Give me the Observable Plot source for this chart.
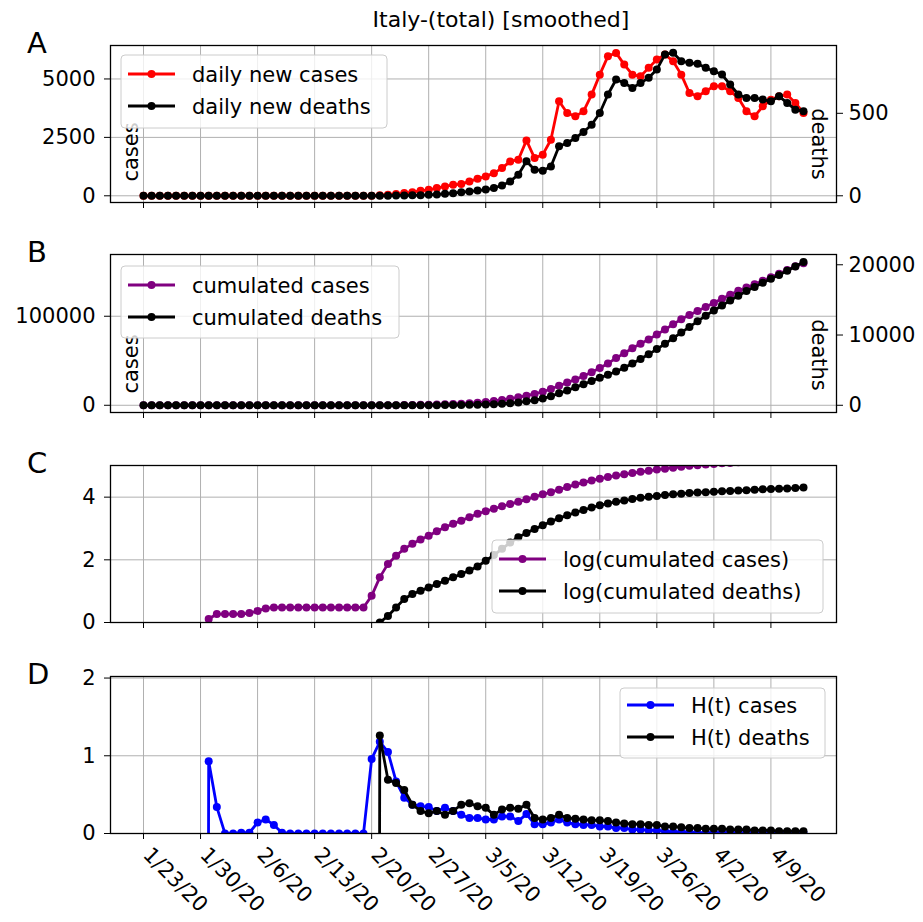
<!DOCTYPE html>
<html>
<head>
<meta charset="utf-8">
<script src="https://cdn.jsdelivr.net/npm/d3@7"></script>
<script src="https://cdn.jsdelivr.net/npm/@observablehq/plot@0.6"></script>
<style>
  body { margin: 0; background: #fff; font-family: "DejaVu Sans", sans-serif; }
  #root { position: relative; width: 923px; height: 922px; overflow: hidden; background: #fff; }
  #root > svg.plot { position: absolute; left: 0; }
</style>
</head>
<body>
<div id="root"></div>
<script>
// ---------------- data (day index 0 = 1/23/20, one value per day) ----------------
const tickDays = [0, 7, 14, 21, 28, 35, 42, 49, 56, 63, 70, 77];
const tickLabels = ["1/23/20", "1/30/20", "2/6/20", "2/13/20", "2/20/20", "2/27/20",
                    "3/5/20", "3/12/20", "3/19/20", "3/26/20", "4/2/20", "4/9/20"];

const dailyCases = [0,0,0,0,0,0,0,0, 1,0,0,0,0,0,0,0, 0,0,0,0,0,0,0,0, 0,0,0,0,
  5,20,45,80, 115,155,215,255,330,400,470,500,615,730,830,970,1185,1470,1545,2370,
  1615,1760,2400,4045,3545,3400,3615,4330,5185,5975,6115,5615,5185,5115,5475,5830,
  6045,5760,5185,4400,4260,4475,4690,4690,4475,4185,3615,3400,3830,4115,4260,4330,3975,3545];

const dailyDeaths = [0,0,0,0,0,0,0,0, 0,0,0,0,0,0,0,0, 0,0,0,0,0,0,0,0, 0,0,0,0,
  0,1,1,2, 2,3,4,6,8,12,16,22,26,32,38,47,63,87,128,209,
  158,152,178,300,320,350,387,431,502,614,705,684,654,684,715,765,
  857,867,816,806,800,776,755,735,674,614,593,593,583,573,603,563,522,512];

const cumCases = [0,0,0,0,0,0,0,0, 2,2,2,2,2,2,2,3, 3,3,3,3,3,3,3,3, 3,3,3,3,
  10,27,74,135, 224,324,447,590,813,1100,1410,1780,2290,2950,3800,4800,6000,7400,9000,10800,
  12800,15200,18300,22000,25500,29000,32800,37000,41800,47000,53000,58500,64000,69000,74000,79500,
  85000,91000,96500,101500,106000,110500,115000,119500,124000,128500,132300,136000,139800,143800,147800,152000,156000,159500];

const cumDeaths = [0,0,0,0,0,0,0,0, 0,0,0,0,0,0,0,0, 0,0,0,0,0,0,0,0, 0,0,0,0,
  0,1,2,3, 6,9,12,16,21,28,35,45,60,85,115,160,215,290,410,560,
  730,950,1300,1700,2100,2550,3000,3450,3900,4350,4800,5350,5950,6600,7250,8000,
  8750,9550,10350,11150,11950,12750,13500,14200,14900,15600,16250,16850,17450,18000,18550,19150,19750,20400];

const logCases = [null,null,null,null,null,null,null,null, 0.11,0.27,0.27,0.27,0.27,0.30,0.37,0.45,
  0.48,0.48,0.48,0.48,0.48,0.48,0.48,0.48, 0.48,0.48,0.48,0.48,
  0.85,1.44,1.87,2.13, 2.35,2.51,2.65,2.77,2.91,3.04,3.15,3.25,3.36,3.47,3.55,3.63,3.71,3.78,3.85,3.93,
  4.01,4.09,4.16,4.24,4.32,4.40,4.47,4.53,4.59,4.64,4.69,4.73,4.77,4.81,4.84,4.88,
  4.91,4.94,4.97,5.00,5.02,5.04,5.06,5.08,5.09,5.11,5.12,5.13,5.15,5.16,5.17,5.18,5.19,5.20];

const logDeaths = [null,null,null,null,null,null,null,null, null,null,null,null,null,null,null,null,
  null,null,null,null,null,null,null,null, null,null,null,null,
  null,0.00,0.21,0.48, 0.75,0.91,1.01,1.12,1.23,1.33,1.44,1.55,1.66,1.79,1.97,2.15,2.35,2.55,2.72,2.86,
  2.98,3.10,3.22,3.33,3.42,3.51,3.59,3.67,3.74,3.80,3.85,3.89,3.94,3.98,4.01,4.04,
  4.07,4.09,4.11,4.13,4.15,4.16,4.17,4.19,4.20,4.21,4.22,4.24,4.25,4.26,4.27,4.28,4.29,4.31];

// -50 marks a value far below the axis (the line drops straight out of the panel)
const hCases = [null,null,null,null,null,null,null,-50, 0.93,0.34,0,0,0.01,0.01,0.14,0.18,
  0.11,0.01,0,0,0,0,0,0, 0,0,0,0,
  0.96,1.18,1.05,0.67, 0.46,0.37,0.35,0.34,0.29,0.33,0.29,0.24,0.20,0.20,0.18,0.18,0.22,0.22,0.16,0.25,
  0.12,0.12,0.14,0.18,0.14,0.12,0.11,0.11,0.09,0.09,0.07,0.07,0.05,0.05,0.04,0.04,
  0.03,0.02,0.02,0.02,0.01,0.01,0.01,0.01,0.01,0.01,0.01,0.01,0.005,0.005,0.005,0.005,0.005,0.005];

const hDeaths = [null,null,null,null,null,null,null,null, null,null,null,null,null,null,null,null,
  null,null,null,null,null,null,null,null, null,null,null,null,
  -50,1.26,0.69,0.65, 0.56,0.37,0.29,0.26,0.29,0.24,0.29,0.37,0.39,0.35,0.33,0.24,0.31,0.33,0.32,0.37,
  0.20,0.18,0.20,0.24,0.20,0.19,0.18,0.17,0.17,0.16,0.14,0.13,0.12,0.12,0.11,0.11,
  0.09,0.09,0.08,0.07,0.07,0.06,0.06,0.06,0.05,0.05,0.05,0.04,0.04,0.04,0.03,0.03,0.03,0.03];

// ---------------- layout ----------------
const W = 923, ML = 110, MR = 87;
const xDomain = [-4.05, 85.05];
const root = document.getElementById("root");
const FONT = "DejaVu Sans";
const LW = 2.8, R = 4;

function rows(arr, k = 1) {
  return arr.map((v, i) => ({ i, v: v == null ? NaN : v * k }));
}

function panel({ top, frameH, mt = 10, mb = 10, yDomain, leftTicks, rightTicks, k = 1, layers, xLabels = false }) {
  const marks = [
    Plot.gridX(tickDays, { stroke: "#b0b0b0", strokeOpacity: 1, strokeWidth: 1 }),
    Plot.gridY(leftTicks, { stroke: "#b0b0b0", strokeOpacity: 1, strokeWidth: 1 })
  ];
  for (const L of layers) {
    const d = rows(L.data, L.k || 1);
    marks.push(Plot.line(d, { x: "i", y: "v", stroke: L.color, strokeWidth: LW, clip: true }));
    marks.push(Plot.dot(d, { x: "i", y: "v", fill: L.color, r: R, clip: true }));
  }
  marks.push(Plot.axisY(leftTicks, { anchor: "left", tickSize: 6, tickPadding: 9, fontSize: 21, label: null,
    tickFormat: d => String(d) }));
  if (rightTicks) {
    marks.push(Plot.axisY(rightTicks.map(v => v * k), { anchor: "right", tickSize: 6, tickPadding: 6, fontSize: 21,
      label: null, tickFormat: d => String(Math.round(d / k)) }));
  }
  marks.push(Plot.axisX(tickDays, { anchor: "bottom", tickSize: 6, label: null, tickFormat: () => "" }));
  if (xLabels) {
    marks.push(Plot.text(tickDays, { x: d => d, frameAnchor: "bottom", text: (d, i) => tickLabels[i],
      rotate: 45, textAnchor: "start", lineAnchor: "top", dx: 9, dy: 12, fontSize: 21, fill: "black" }));
  }
  marks.push(Plot.frame({ stroke: "black", strokeWidth: 1.3 }));
  const svg = Plot.plot({
    width: W, height: mt + frameH + mb,
    marginTop: mt, marginBottom: mb, marginLeft: ML, marginRight: MR,
    x: { domain: xDomain, label: null },
    y: { domain: yDomain, label: null },
    style: { fontFamily: FONT, fontSize: "21px", color: "black", background: "transparent", overflow: "visible" },
    marks
  });
  svg.classList.add("plot");
  svg.style.top = (top - mt) + "px";
  root.appendChild(svg);
}

// Panel A: daily new cases (left) / deaths (right)
const kA = 7.06;
panel({ top: 45, frameH: 157, yDomain: [-287, 6432], leftTicks: [0, 2500, 5000], rightTicks: [0, 500], k: kA,
  layers: [{ data: dailyCases, color: "red" }, { data: dailyDeaths, color: "black", k: kA }] });

// Panel B: cumulated cases (left) / deaths (right)
const kB = 7.89;
panel({ top: 254, frameH: 158, yDomain: [-8117, 169335], leftTicks: [0, 100000], rightTicks: [0, 10000, 20000], k: kB,
  layers: [{ data: cumCases, color: "purple" }, { data: cumDeaths, color: "black", k: kB }] });

// Panel C: log cumulated
panel({ top: 465, frameH: 157, yDomain: [0, 5.01], leftTicks: [0, 2, 4],
  layers: [{ data: logCases, color: "purple" }, { data: logDeaths, color: "black" }] });

// Panel D: H(t)
panel({ top: 676, frameH: 157, mb: 89, yDomain: [0, 2.02], leftTicks: [0, 1, 2], xLabels: true,
  layers: [{ data: hCases, color: "blue" }, { data: hDeaths, color: "black" }] });

// ---------------- text overlay: title, panel letters, axis labels, legends ----------------
const ov = d3.select(root).append("svg")
  .attr("width", W).attr("height", 922)
  .style("position", "absolute").style("left", 0).style("top", 0)
  .style("font-family", FONT).style("pointer-events", "none");

ov.append("text").attr("x", 501).attr("y", 27).attr("text-anchor", "middle")
  .attr("font-size", 22).text("Italy-(total) [smoothed]");

[["A", 53], ["B", 262], ["C", 473], ["D", 684]].forEach(([s, y]) =>
  ov.append("text").attr("x", 27).attr("y", y).attr("font-size", 29).text(s));

function vlabel(s, cx, cy, rot) {
  ov.append("text").attr("transform", `translate(${cx},${cy}) rotate(${rot})`)
    .attr("text-anchor", "middle").attr("dy", "0.35em").attr("font-size", 21).text(s);
}
vlabel("cases", 131, 152, -90);
vlabel("deaths", 819, 144, 90);
vlabel("cases", 131, 364, -90);
vlabel("deaths", 819, 355, 90);

function legend(x0, y0, w, h, items) {
  const g = ov.append("g");
  g.append("rect").attr("x", x0).attr("y", y0).attr("width", w).attr("height", h).attr("rx", 4)
    .attr("fill", "white").attr("fill-opacity", 0.8).attr("stroke", "#cccccc").attr("stroke-width", 1);
  items.forEach(it => {
    g.append("line").attr("x1", x0 + 7).attr("x2", x0 + 54).attr("y1", it.y).attr("y2", it.y)
      .attr("stroke", it.color).attr("stroke-width", LW);
    g.append("circle").attr("cx", x0 + 30.5).attr("cy", it.y).attr("r", R).attr("fill", it.color);
    g.append("text").attr("x", x0 + 71).attr("y", it.y).attr("dy", "0.36em").attr("font-size", 21).text(it.label);
  });
}
legend(121, 55, 266, 73, [{ y: 74, color: "red", label: "daily new cases" }, { y: 106, color: "black", label: "daily new deaths" }]);
legend(121, 266, 278, 72, [{ y: 285, color: "purple", label: "cumulated cases" }, { y: 317, color: "black", label: "cumulated deaths" }]);
legend(492, 540, 331, 73, [{ y: 559, color: "purple", label: "log(cumulated cases)" }, { y: 591, color: "black", label: "log(cumulated deaths)" }]);
legend(620, 688, 205, 70, [{ y: 705, color: "blue", label: "H(t) cases" }, { y: 737, color: "black", label: "H(t) deaths" }]);
</script>
</body>
</html>
